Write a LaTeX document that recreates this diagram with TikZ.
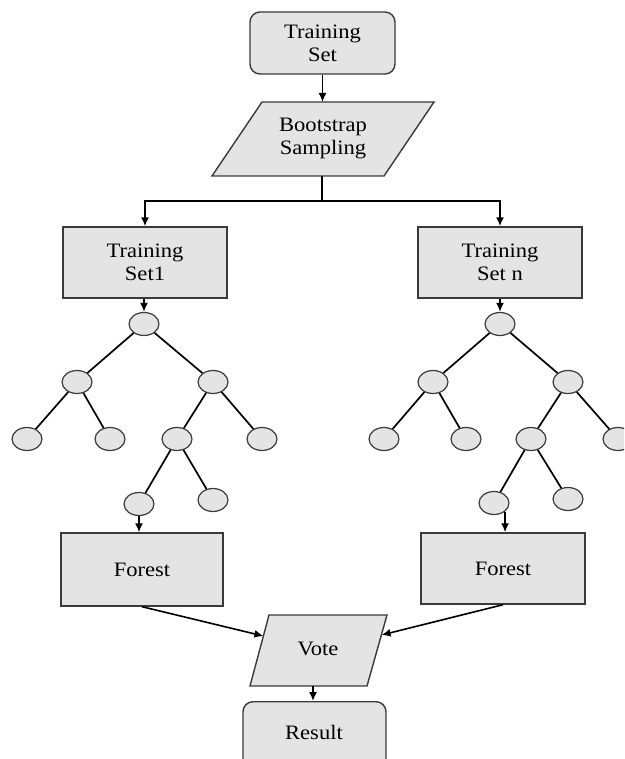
\documentclass[tikz,border=0pt]{standalone}
\usepackage{fontspec}
\setmainfont{Liberation Serif}[FakeStretch=1.1]
\usetikzlibrary{arrows.meta,shapes.geometric}
\definecolor{boxfill}{HTML}{E4E4E4}
\definecolor{boxline}{HTML}{3A3A3A}
\begin{document}
\begin{tikzpicture}[x=1pt,y=-1pt,
  lbl/.style={font=\fontsize{20.5}{23}\selectfont, align=center, text=black, inner sep=0pt},
  rbox/.style={draw=boxline, fill=boxfill, line width=1.4pt, rounded corners=10pt},
  sbox/.style={draw=boxline, fill=boxfill, line width=1.4pt},
  leaf/.style={ellipse, draw=boxline, fill=boxfill, line width=1.2pt, minimum width=30pt, minimum height=23pt, inner sep=0pt},
  arr/.style={line width=1.6pt, -{Latex[length=9pt,width=8pt]}},
  edgeline/.style={line width=1.7pt}]
\useasboundingbox (0,0) rectangle (624,759);
\clip (0,0) rectangle (624,759);

% Training Set
\node[rbox, lbl, minimum width=145pt, minimum height=62pt] (ts) at (322.5,43) {Training\\Set};

% Bootstrap Sampling
\coordinate (bs-tl) at (262,102);
\coordinate (bs-tr) at (434,102);
\coordinate (bs-br) at (384,176);
\coordinate (bs-bl) at (212,176);
\coordinate (bs-b) at (322,176);
\filldraw[sbox] (bs-tl) -- (bs-tr) -- (bs-br) -- (bs-bl) -- cycle;
\node[lbl] (bs) at (323,139) {Bootstrap\\Sampling};
\draw[arr] (ts.south) -- (ts.south |- bs-tl);

% Training sets
\node[sbox, lbl, minimum width=164pt, minimum height=71pt] (s1) at (145,262.5) {Training\\Set1};
\node[sbox, lbl, minimum width=164pt, minimum height=71pt] (sn) at (500,262.5) {Training\\Set n};
\coordinate (split) at (322,201);
\draw[edgeline] (bs-b) -- (split);
\draw[arr] (split) -| (s1.north);
\draw[arr] (split) -| (sn.north);

% Left tree
\node[leaf] (l-root) at (144,324) {};
\node[leaf] (l-l) at (77,382) {};
\node[leaf] (l-r) at (213,382) {};
\node[leaf] (l-ll) at (27,439) {};
\node[leaf] (l-lr) at (110,439) {};
\node[leaf] (l-rl) at (177,439) {};
\node[leaf] (l-rr) at (262,439) {};
\node[leaf] (l-rll) at (139,504) {};
\node[leaf] (l-rlr) at (213,500) {};
\draw[edgeline] (l-root) -- (l-l);
\draw[edgeline] (l-root) -- (l-r);
\draw[edgeline] (l-l) -- (l-ll);
\draw[edgeline] (l-l) -- (l-lr);
\draw[edgeline] (l-r) -- (l-rl);
\draw[edgeline] (l-r) -- (l-rr);
\draw[edgeline] (l-rl) -- (l-rll);
\draw[edgeline] (l-rl) -- (l-rlr);
\draw[arr] (s1.south -| l-root) -- (l-root.north);

% Right tree
\node[leaf] (r-root) at (500,324) {};
\node[leaf] (r-l) at (433,382) {};
\node[leaf] (r-r) at (568,382) {};
\node[leaf] (r-ll) at (384,439) {};
\node[leaf] (r-lr) at (466,439) {};
\node[leaf] (r-rl) at (531,439) {};
\node[leaf] (r-rr) at (618,439) {};
\node[leaf] (r-rll) at (494,503) {};
\node[leaf] (r-rlr) at (568,499) {};
\draw[edgeline] (r-root) -- (r-l);
\draw[edgeline] (r-root) -- (r-r);
\draw[edgeline] (r-l) -- (r-ll);
\draw[edgeline] (r-l) -- (r-lr);
\draw[edgeline] (r-r) -- (r-rl);
\draw[edgeline] (r-r) -- (r-rr);
\draw[edgeline] (r-rl) -- (r-rll);
\draw[edgeline] (r-rl) -- (r-rlr);
\draw[arr] (sn.south -| r-root) -- (r-root.north);

% Forests
\node[sbox, lbl, minimum width=162pt, minimum height=73pt] (f1) at (142,569.5) {Forest};
\node[sbox, lbl, minimum width=164pt, minimum height=71pt] (f2) at (503,568.5) {Forest};
\draw[arr] (l-rll.south) -- (l-rll.south |- f1.north);
\draw[arr] (r-rll.south east) -- (r-rll.south east |- f2.north);

% Vote
\coordinate (v-tl) at (269,615);
\coordinate (v-tr) at (387,615);
\coordinate (v-br) at (367,686);
\coordinate (v-bl) at (250,686);
\coordinate (v-inl) at (263.4,636);
\coordinate (v-inr) at (381.6,635);
\coordinate (v-b) at (313,686);
\filldraw[sbox] (v-tl) -- (v-tr) -- (v-br) -- (v-bl) -- cycle;
\node[lbl] (vote) at (318,649) {Vote};
\draw[arr] (f1.south) -- (v-inl);
\draw[arr] (f2.south) -- (v-inr);

% Result
\node[rbox, minimum width=143pt, minimum height=80pt, anchor=north] (res) at (314.5,701) {};
\node[lbl] (res-t) at (314,732) {Result};
\draw[arr] (v-b) -- (v-b |- res.north);
\end{tikzpicture}
\end{document}
